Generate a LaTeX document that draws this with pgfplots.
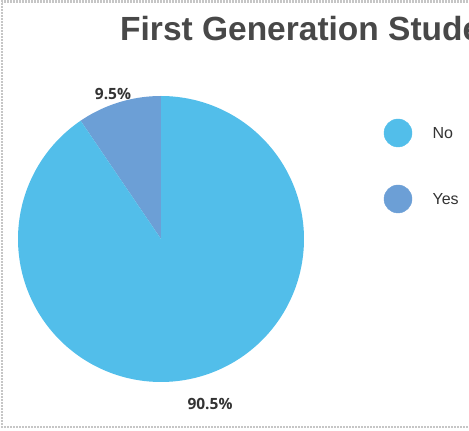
\documentclass[border=0pt]{standalone}
\usepackage{pgfplots}
\pgfplotsset{compat=1.18}
\usepackage{fontspec}
\setmainfont{Liberation Sans}
\newfontfamily\pctfont{Open Sans}
\definecolor{cNo}{HTML}{52BEEA}
\definecolor{cYes}{HTML}{6C9FD6}
\definecolor{ctitle}{HTML}{484848}
\definecolor{ctext}{HTML}{333333}
\begin{document}
\begin{tikzpicture}
% data: share of students (percent)
\def\valNo{90.5}
\def\valYes{9.5}
\pgfmathsetmacro{\aStart}{90}
\pgfmathsetmacro{\aYes}{90+\valYes*3.6}
\pgfmathsetmacro{\aEnd}{450}
\begin{axis}[
  width=469pt, height=431pt, scale only axis,
  xmin=0, xmax=469, ymin=0, ymax=431,
  hide axis, clip=false,
]
% Yes slice
\addplot[fill=cYes, draw=none, domain=\aStart:\aYes, samples=40, variable=\t]
  ({161+143*cos(\t)},{192+143*sin(\t)}) -- (161,192) -- cycle;
% No slice
\addplot[fill=cNo, draw=none, domain=\aYes:\aEnd, samples=200, variable=\t]
  ({161+143*cos(\t)},{192+143*sin(\t)}) -- (161,192) -- cycle;
% legend markers
\addplot[color=cNo, only marks, mark=*, mark size=14pt, mark options={fill=cNo, draw=cNo}] coordinates {(398,298)};
\addplot[color=cYes, only marks, mark=*, mark size=14pt, mark options={fill=cYes, draw=cYes}] coordinates {(398,232)};
\node[anchor=west, text=ctext, font=\fontsize{16}{18}\selectfont] at (429,298) {No};
\node[anchor=west, text=ctext, font=\fontsize{16}{18}\selectfont] at (429,232) {Yes};
% percentage labels
\node[text=ctext, font=\pctfont\bfseries\fontsize{15.5}{17}\selectfont] at (113,337) {9.5\%};
\node[text=ctext, font=\pctfont\bfseries\fontsize{15.5}{17}\selectfont] at (210,27) {90.5\%};
% title
\node[anchor=base west, inner sep=0pt, text=ctitle, font=\bfseries\fontsize{33.5}{36}\selectfont] at (120,390) {First Generation Stude};
% border
\draw[gray!45, line width=2.5pt, dash pattern=on 1.6pt off 1.4pt] (480,429.5) -- (2,429.5) -- (2,4) -- (480,4);
\end{axis}
\pgfresetboundingbox
\path[use as bounding box] (0,0) rectangle (469pt,431pt);
\end{tikzpicture}
\end{document}
